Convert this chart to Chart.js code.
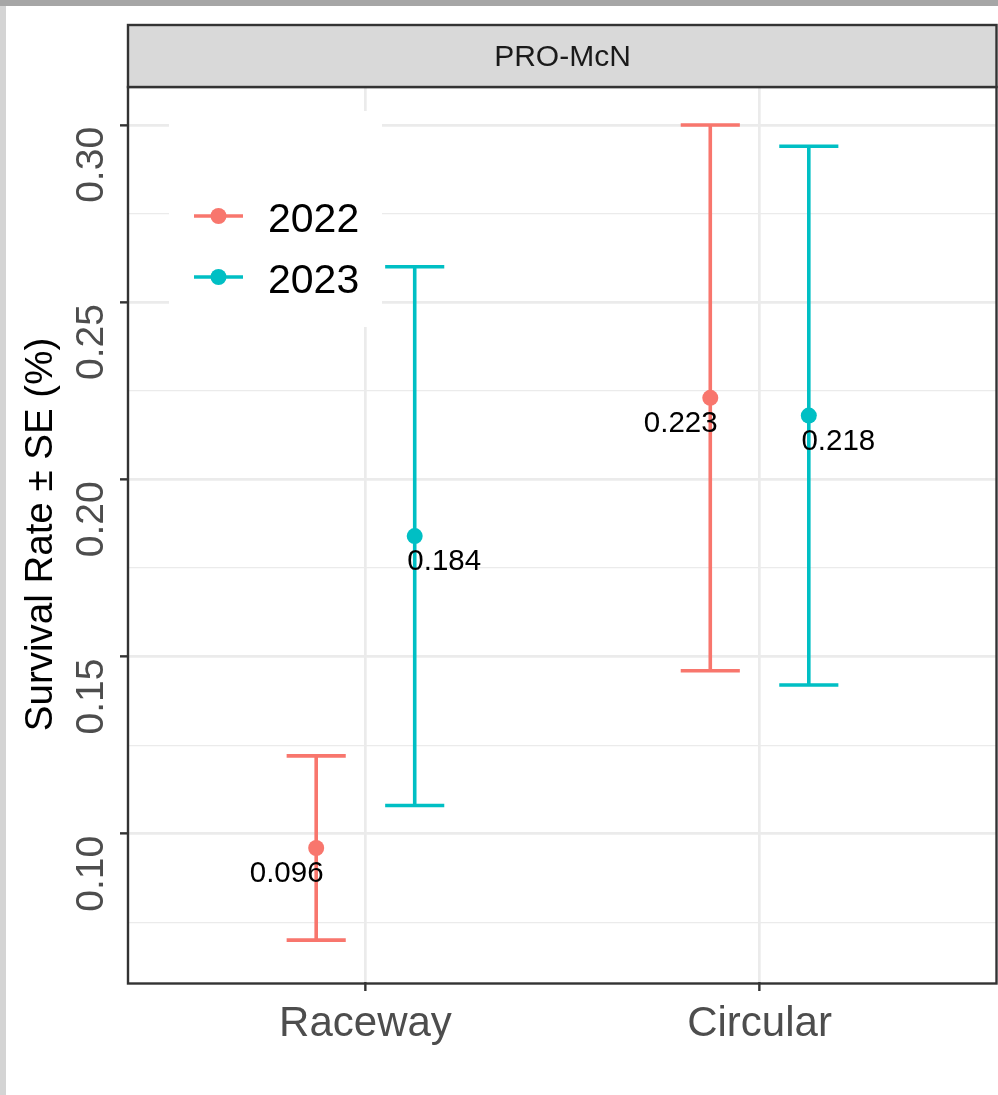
<!DOCTYPE html>
<html>
<head>
<meta charset="utf-8">
<title>PRO-McN survival</title>
<script src="https://cdn.jsdelivr.net/npm/chart.js"></script>
<style>
  html, body { margin: 0; padding: 0; background: #fff; }
  canvas { display: block; }
</style>
</head>
<body>
<canvas id="myChart" width="998" height="1095"></canvas>
<script>
// data
var categories = ["Raceway", "Circular"];
var years = ["2022", "2023"];
var rate2022 = [0.096, 0.223];
var rate2023 = [0.184, 0.218];
var se2022 = [0.026, 0.077];
var se2023 = [0.076, 0.076];
var yMajor = [0.10, 0.15, 0.20, 0.25, 0.30];
var yMinor = [0.075, 0.125, 0.175, 0.225, 0.275];
var panelTitle = "PRO-McN";
var yTitle = "Survival Rate ± SE (%)";

var yearColors = ["#F8766D", "#00BFC4"];
var dodge = [-0.125, 0.125];
var labelNudge = [-0.075, 0.075];
var font = "'Liberation Sans', Arial, sans-serif";

function isMajor(v) {
  return yMajor.some(function (m) { return Math.abs(m - v) < 1e-9; });
}

function makeSet(i, rates, ses) {
  return {
    label: years[i],
    data: rates.map(function (r, j) {
      return { x: j + 1 + dodge[i], y: r, se: ses[j] };
    }),
    backgroundColor: yearColors[i],
    borderColor: yearColors[i],
    pointRadius: 8,
    pointBorderWidth: 0,
    showLine: false
  };
}

var decor = {
  id: "decor",
  beforeDraw: function (chart) {
    var c = chart.ctx;
    c.save();
    c.fillStyle = "#fff";
    c.fillRect(0, 0, chart.width, chart.height);
    c.fillStyle = "#d4d4d4";
    c.fillRect(0, 0, 6, chart.height);
    c.fillStyle = "#a6a6a6";
    c.fillRect(0, 0, chart.width, 6);
    c.restore();
  },
  beforeDatasetsDraw: function (chart) {
    var c = chart.ctx, xs = chart.scales.x, ys = chart.scales.y;
    c.save();
    // legend sits inside the panel
    c.fillStyle = "#fff";
    c.fillRect(169, 111, 213, 216);
    years.forEach(function (yr, i) {
      var ly = 216 + i * 61;
      c.strokeStyle = yearColors[i];
      c.lineWidth = 3.6;
      c.beginPath(); c.moveTo(194, ly); c.lineTo(243, ly); c.stroke();
      c.fillStyle = yearColors[i];
      c.beginPath(); c.arc(218.5, ly, 8, 0, Math.PI * 2); c.fill();
      c.fillStyle = "#000";
      c.font = "41px " + font;
      c.textAlign = "left";
      c.textBaseline = "alphabetic";
      c.fillText(yr, 268, ly + 15.5);
    });
    // error bars
    chart.data.datasets.forEach(function (ds) {
      c.strokeStyle = ds.borderColor;
      c.lineWidth = 3.6;
      ds.data.forEach(function (d) {
        var x = xs.getPixelForValue(d.x);
        var lo = ys.getPixelForValue(d.y - d.se);
        var hi = ys.getPixelForValue(d.y + d.se);
        var x0 = xs.getPixelForValue(d.x - 0.075);
        var x1 = xs.getPixelForValue(d.x + 0.075);
        c.beginPath();
        c.moveTo(x, lo); c.lineTo(x, hi);
        c.moveTo(x0, lo); c.lineTo(x1, lo);
        c.moveTo(x0, hi); c.lineTo(x1, hi);
        c.stroke();
      });
    });
    c.restore();
  },
  afterDatasetsDraw: function (chart) {
    var c = chart.ctx, xs = chart.scales.x, ys = chart.scales.y;
    c.save();
    c.fillStyle = "#000";
    c.font = "29.5px " + font;
    c.textAlign = "center";
    c.textBaseline = "alphabetic";
    chart.data.datasets.forEach(function (ds, i) {
      ds.data.forEach(function (d) {
        c.fillText(d.y.toFixed(3), xs.getPixelForValue(d.x + labelNudge[i]), ys.getPixelForValue(d.y) + 34);
      });
    });
    c.restore();
  },
  afterDraw: function (chart) {
    var c = chart.ctx, a = chart.chartArea, ys = chart.scales.y;
    c.save();
    // panel border
    c.strokeStyle = "#333";
    c.lineWidth = 2.4;
    c.strokeRect(a.left - 1, a.top, a.right - a.left + 1.5, a.bottom - a.top + 1.5);
    // facet strip
    c.fillStyle = "#d9d9d9";
    c.fillRect(a.left - 1, 25, a.right - a.left + 1.5, a.top - 25);
    c.strokeRect(a.left - 1, 25, a.right - a.left + 1.5, a.top - 25);
    c.fillStyle = "#1a1a1a";
    c.font = "30px " + font;
    c.textAlign = "center";
    c.textBaseline = "alphabetic";
    c.fillText(panelTitle, (a.left + a.right) / 2, 66);
    // rotated y tick labels
    c.fillStyle = "#4d4d4d";
    c.font = "39px " + font;
    c.textAlign = "right";
    yMajor.forEach(function (v) {
      c.save();
      c.translate(103, ys.getPixelForValue(v) + 2);
      c.rotate(-Math.PI / 2);
      c.fillText(v.toFixed(2), 0, 0);
      c.restore();
    });
    // y title
    c.fillStyle = "#000";
    c.font = "38.5px " + font;
    c.textAlign = "center";
    c.save();
    c.translate(52, (a.top + a.bottom) / 2);
    c.rotate(-Math.PI / 2);
    c.fillText(yTitle, 0, 0);
    c.restore();
    c.restore();
  }
};

new Chart("myChart", {
  type: "scatter",
  data: {
    datasets: [makeSet(0, rate2022, se2022), makeSet(1, rate2023, se2023)]
  },
  options: {
    responsive: false,
    animation: false,
    devicePixelRatio: 1,
    layout: { autoPadding: false, padding: { top: 87, right: 2, left: 0, bottom: 0 } },
    plugins: {
      legend: { display: false },
      tooltip: { enabled: false }
    },
    scales: {
      x: {
        type: "linear",
        min: 0.4,
        max: 2.6,
        afterBuildTicks: function (s) {
          s.ticks = categories.map(function (cat, i) { return { value: i + 1 }; });
        },
        afterFit: function (s) {
          s.height = 113;
          s.paddingLeft = 0;
          s.paddingRight = 0;
        },
        border: { display: false },
        grid: { color: "#ebebeb", lineWidth: 2.7, tickColor: "#333", tickWidth: 2.4, tickLength: 9 },
        ticks: {
          callback: function (v) { return categories[Math.round(v) - 1]; },
          font: { family: font, size: 42 },
          color: "#4d4d4d",
          padding: 8,
          maxRotation: 0
        }
      },
      y: {
        min: 0.0582,
        max: 0.3107,
        afterBuildTicks: function (s) {
          s.ticks = yMajor.concat(yMinor).sort().map(function (v) { return { value: v }; });
        },
        afterFit: function (s) {
          s.width = 129;
          s.paddingTop = 0;
          s.paddingBottom = 0;
        },
        border: { display: false },
        grid: {
          color: "#ebebeb",
          lineWidth: function (ctx) { return ctx.tick && isMajor(ctx.tick.value) ? 2.7 : 1.3; },
          tickColor: function (ctx) { return ctx.tick && isMajor(ctx.tick.value) ? "#333" : "rgba(0,0,0,0)"; },
          tickWidth: 2.4,
          tickLength: 9
        },
        ticks: { display: false }
      }
    }
  },
  plugins: [decor]
});
</script>
</body>
</html>
